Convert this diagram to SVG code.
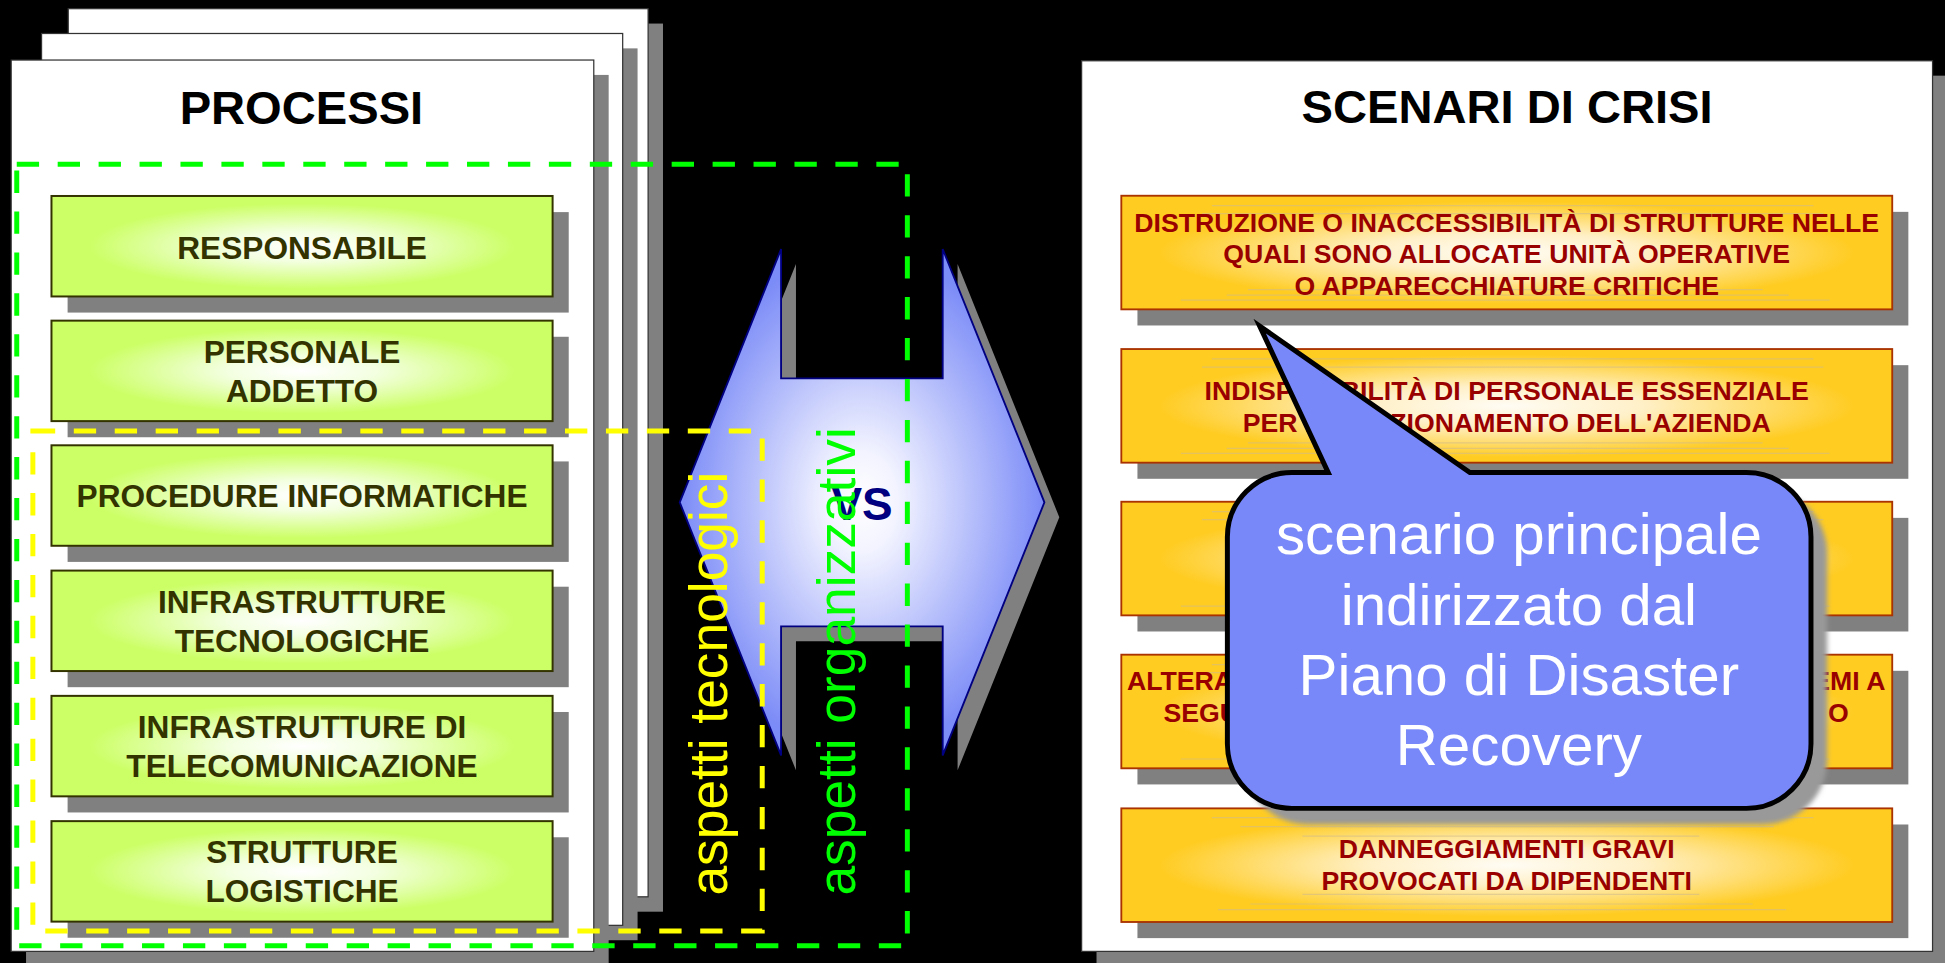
<svg xmlns="http://www.w3.org/2000/svg" width="1945" height="963" viewBox="0 0 1945 963">
<defs>
  <radialGradient id="gGreen" cx="0.5" cy="0.5" r="0.5">
    <stop offset="0" stop-color="#ffffff"/>
    <stop offset="0.3" stop-color="#f3ffe0"/>
    <stop offset="0.85" stop-color="#ccff66"/>
  </radialGradient>
  <radialGradient id="gOrange" cx="0.5" cy="0.5" r="0.5">
    <stop offset="0" stop-color="#fffcf4"/>
    <stop offset="0.35" stop-color="#fff0c8"/>
    <stop offset="0.9" stop-color="#ffcc22"/>
  </radialGradient>
  <radialGradient id="gArrow" cx="0.5" cy="0.5" r="0.5">
    <stop offset="0" stop-color="#ffffff"/>
    <stop offset="0.2" stop-color="#f2f3ff"/>
    <stop offset="1" stop-color="#7b8bf7"/>
  </radialGradient>
  <filter id="soft" x="-10%" y="-10%" width="120%" height="120%">
    <feGaussianBlur stdDeviation="2"/>
  </filter>
</defs>
<style>
  .panel{fill:#ffffff;stroke:#333333;stroke-width:1}
  .shadow{fill:#808080}
  .gbox{fill:url(#gGreen);stroke:#333300;stroke-width:1.6}
  .gtxt{font-family:"Liberation Sans",Arial,sans-serif;font-weight:bold;font-size:25.5px;fill:#333300;text-anchor:middle}
  .obox{fill:url(#gOrange);stroke:#aa3300;stroke-width:1.5}
  .otxt{font-family:"Liberation Sans",Arial,sans-serif;font-weight:bold;font-size:21.5px;fill:#990000;text-anchor:middle}
  .title{font-family:"Liberation Sans",Arial,sans-serif;font-weight:bold;font-size:38px;fill:#000000;text-anchor:middle}
  .band{stroke:#cdb98e;stroke-width:1;opacity:0.55;fill:none}
  .dashG{fill:none;stroke:#00ff00;stroke-width:4;stroke-dasharray:18 15}
  .dashY{fill:none;stroke:#ffff00;stroke-width:4;stroke-dasharray:18 15}
  .vtxt{font-family:"Liberation Sans",Arial,sans-serif;font-size:43px}
  .ctxt{font-family:"Liberation Sans",Arial,sans-serif;font-size:47px;fill:#ffffff;text-anchor:middle}
</style>
<rect width="1945" height="963" fill="#000000"/>
<g transform="scale(1.2404)">
  <!-- PROCESSI stacked panels -->
  <g id="processi-panel">
    <rect class="shadow" x="67" y="19" width="467.5" height="716"/>
    <rect class="panel" x="55" y="7" width="467.5" height="716"/>
    <rect class="shadow" x="45.5" y="39" width="468.5" height="719"/>
    <rect class="panel" x="33.5" y="27" width="468.5" height="719"/>
    <rect class="shadow" x="21" y="60.4" width="469.7" height="718.6"/>
    <rect class="panel" x="9" y="48.4" width="469.7" height="718.6"/>
    <text class="title" x="243" y="100">PROCESSI</text>
  </g>

  <g id="responsabile">
    <rect class="shadow" x="54.5" y="171" width="404" height="81"/>
    <rect class="gbox" x="41.5" y="158" width="404" height="81"/>
    <text class="gtxt" x="243.5" y="209">RESPONSABILE</text>
  </g>
  <g id="personale-addetto">
    <rect class="shadow" x="54.5" y="271.5" width="404" height="81"/>
    <rect class="gbox" x="41.5" y="258.5" width="404" height="81"/>
    <text class="gtxt" x="243.5" y="292.3">PERSONALE</text>
    <text class="gtxt" x="243.5" y="323.8">ADDETTO</text>
  </g>
  <g id="procedure-informatiche">
    <rect class="shadow" x="54.5" y="372" width="404" height="81"/>
    <rect class="gbox" x="41.5" y="359" width="404" height="81"/>
    <text class="gtxt" x="243.5" y="409">PROCEDURE INFORMATICHE</text>
  </g>
  <g id="infrastrutture-tecnologiche">
    <rect class="shadow" x="54.5" y="473" width="404" height="81"/>
    <rect class="gbox" x="41.5" y="460" width="404" height="81"/>
    <text class="gtxt" x="243.5" y="494.4">INFRASTRUTTURE</text>
    <text class="gtxt" x="243.5" y="526">TECNOLOGICHE</text>
  </g>
  <g id="infrastrutture-telecomunicazione">
    <rect class="shadow" x="54.5" y="574" width="404" height="81"/>
    <rect class="gbox" x="41.5" y="561" width="404" height="81"/>
    <text class="gtxt" x="243.5" y="595.2">INFRASTRUTTURE DI</text>
    <text class="gtxt" x="243.5" y="626.2">TELECOMUNICAZIONE</text>
  </g>
  <g id="strutture-logistiche">
    <rect class="shadow" x="54.5" y="675" width="404" height="81"/>
    <rect class="gbox" x="41.5" y="662" width="404" height="81"/>
    <text class="gtxt" x="243.5" y="695.5">STRUTTURE</text>
    <text class="gtxt" x="243.5" y="727">LOGISTICHE</text>
  </g>

  <!-- SCENARI DI CRISI panel -->
  <g id="scenari-panel">
    <rect class="shadow" x="884" y="61" width="686" height="718"/>
    <rect class="panel" x="872" y="49" width="686" height="718"/>
    <text class="title" x="1215" y="99.5">SCENARI DI CRISI</text>
  </g>

  <g id="scenario-distruzione">
    <rect class="shadow" x="917" y="170.8" width="621.5" height="91.6"/>
    <rect class="obox" x="904" y="157.8" width="621.5" height="91.6"/>
    <path class="band" d="M977,165.8H1462M969,172.3H1470M1006,233.4H1421M989,237.9H1442M952,241.9H1475"/>
    <text class="otxt" x="1214.7" y="186.8">DISTRUZIONE O INACCESSIBILITÀ DI STRUTTURE NELLE</text>
    <text class="otxt" x="1214.7" y="211.8">QUALI SONO ALLOCATE UNITÀ OPERATIVE</text>
    <text class="otxt" x="1214.7" y="237.8">O APPARECCHIATURE CRITICHE</text>
  </g>
  <g id="scenario-personale">
    <rect class="shadow" x="917" y="294.4" width="621.5" height="91.6"/>
    <rect class="obox" x="904" y="281.4" width="621.5" height="91.6"/>
    <path class="band" d="M977,289.4H1462M969,295.9H1470M1006,357H1421M989,361.5H1442M952,365.5H1475"/>
    <text class="otxt" x="1214.7" y="322.5">INDISPONIBILITÀ DI PERSONALE ESSENZIALE</text>
    <text class="otxt" x="1214.7" y="348">PER IL FUNZIONAMENTO DELL'AZIENDA</text>
  </g>
  <g id="scenario-3">
    <rect class="shadow" x="917" y="417.5" width="621.5" height="91.6"/>
    <rect class="obox" x="904" y="404.5" width="621.5" height="91.6"/>
    <path class="band" d="M977,412.5H1462M969,419H1470M1006,480.1H1421M989,484.6H1442M952,488.6H1475"/>
  </g>
  <g id="scenario-alterazione">
    <rect class="shadow" x="917" y="540.8" width="621.5" height="91.6"/>
    <rect class="obox" x="904" y="527.8" width="621.5" height="91.6"/>
    <path class="band" d="M977,535.8H1462M969,542.3H1470M1006,603.4H1421M989,607.9H1442M952,611.9H1475"/>
    <text class="otxt" x="908.5" y="556.3" style="text-anchor:start">ALTERA</text>
    <text class="otxt" x="938" y="581.8" style="text-anchor:start">SEGU</text>
    <text class="otxt" x="1520" y="556.3" style="text-anchor:end">EMI A</text>
    <text class="otxt" x="1490.5" y="581.8" style="text-anchor:end">O</text>
  </g>
  <g id="scenario-danneggiamenti">
    <rect class="shadow" x="917" y="664.7" width="621.5" height="91.6"/>
    <rect class="obox" x="904" y="651.7" width="621.5" height="91.6"/>
    <path class="band" d="M977,659.2H1462M1000,666.4H1430M1050,674H1370M1050,721H1370M1008,728.8H1413M982,733.3H1440"/>
    <text class="otxt" x="1214.7" y="692">DANNEGGIAMENTI GRAVI</text>
    <text class="otxt" x="1214.7" y="717.5">PROVOCATI DA DIPENDENTI</text>
  </g>

  <!-- VS double arrow -->
  <g id="connectors">
    <path class="shadow" transform="translate(12,12)" d="M548,405 L629.7,200.8 L629.7,305 L760,305 L760,200.8 L842,405 L760,609 L760,505 L629.7,505 L629.7,609 Z"/>
    <path d="M548,405 L629.7,200.8 L629.7,305 L760,305 L760,200.8 L842,405 L760,609 L760,505 L629.7,505 L629.7,609 Z" fill="url(#gArrow)" stroke="#000080" stroke-width="1.5" stroke-linejoin="miter"/>
    <text x="695" y="419" font-family="Liberation Sans, Arial, sans-serif" font-weight="bold" font-size="37" fill="#000080" text-anchor="middle">VS</text>
  </g>

  <!-- dashed groupings -->
  <g id="aspetti-organizzativi">
    <path class="dashG" d="M13.5,132.5 H731.5 V762.5 H13.5 Z"/>
    <text class="vtxt" fill="#00ff00" transform="translate(689,722) rotate(-90)">aspetti organizzativi</text>
  </g>
  <g id="aspetti-tecnologici">
    <path class="dashY" d="M26.5,347.5 H614.5 V750.5 H26.5 Z"/>
    <text class="vtxt" fill="#ffff00" transform="translate(586,722) rotate(-90)">aspetti tecnologici</text>
  </g>

  <!-- callout -->
  <g id="callout">
    <rect x="1002.5" y="394" width="470.5" height="270.7" rx="52" fill="#999999" filter="url(#soft)"/>
    <path d="M1041.5,381 L1070.8,381 L1015.5,262.8 L1185,381 L1408,381 A52,52 0 0 1 1460,433 L1460,599.7 A52,52 0 0 1 1408,651.7 L1041.5,651.7 A52,52 0 0 1 989.5,599.7 L989.5,433 A52,52 0 0 1 1041.5,381 Z" fill="#7888f8" stroke="#000000" stroke-width="4" stroke-linejoin="miter" stroke-miterlimit="12"/>
    <text class="ctxt" x="1224.5" y="446.6">scenario principale</text>
    <text class="ctxt" x="1224.5" y="503.9">indirizzato dal</text>
    <text class="ctxt" x="1224.5" y="560.3">Piano di Disaster</text>
    <text class="ctxt" x="1224.5" y="616.7">Recovery</text>
  </g>
</g>
</svg>
